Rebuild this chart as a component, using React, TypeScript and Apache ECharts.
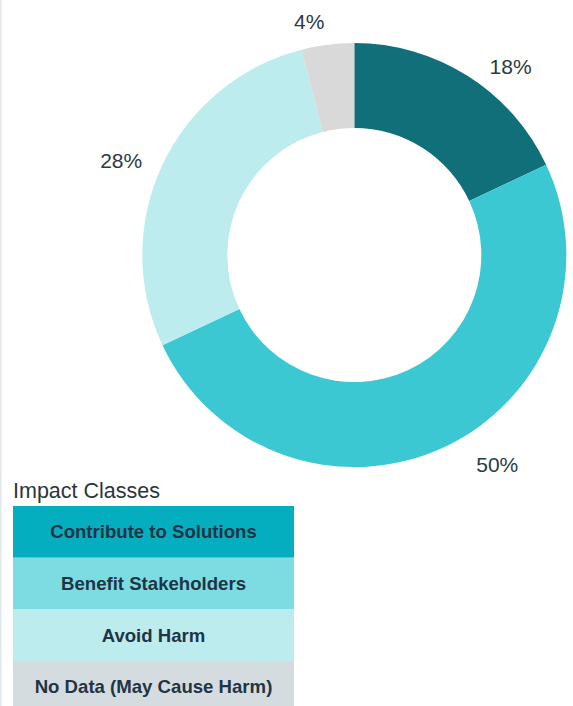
import React, { useEffect, useRef } from "react";
import * as echarts from "echarts";

const sliceNames = ["Contribute to Solutions", "Benefit Stakeholders", "Avoid Harm", "No Data (May Cause Harm)"];
const sliceValues = [18, 50, 28, 4];
const sliceColors = ["#106f78", "#3cc8d3", "#bdecee", "#d9d9d9"];
const labelNudges = [
  [7, 6],
  [19, 1],
  [1, 3],
  [4, -5],
];

const legendTitle = "Impact Classes";
const legendItems = ["Contribute to Solutions", "Benefit Stakeholders", "Avoid Harm", "No Data (May Cause Harm)"];
const legendColors = ["#05aebf", "#7cdce2", "#bdecef", "#d5dcdf"];

export default function App() {
  const ref = useRef<HTMLDivElement>(null);
  useEffect(() => {
    if (!ref.current) return;
    const chart = echarts.init(ref.current, undefined, { renderer: "svg" });
    const rowH = 51.7;
    const top = 506;
    const legendGraphics: any[] = [];
    legendItems.forEach((name, i) => {
      legendGraphics.push({
        type: "rect",
        shape: { x: 13, y: top + i * rowH, width: 281, height: rowH },
        style: { fill: legendColors[i] },
        z: 10,
      });
      legendGraphics.push({
        type: "text",
        x: 153.5,
        y: top + i * rowH + rowH / 2,
        style: {
          text: name,
          fill: "#1f3444",
          font: "bold 18.6px 'Liberation Sans', Arial, sans-serif",
          textAlign: "center",
          textVerticalAlign: "middle",
        },
        z: 11,
      });
    });
    chart.setOption({
      animation: false,
      backgroundColor: "#ffffff",
      graphic: [
        { type: "rect", shape: { x: 0, y: 0, width: 1.5, height: 706 }, style: { fill: "#e1e6e9" } },
        {
          type: "text",
          x: 13,
          y: 491,
          style: {
            text: legendTitle,
            fill: "#2a3540",
            font: "21.5px 'Liberation Sans', Arial, sans-serif",
            textAlign: "left",
            textVerticalAlign: "middle",
          },
        },
        ...legendGraphics,
      ],
      series: [
        {
          type: "pie",
          center: [354.3, 255],
          radius: [127, 212],
          startAngle: 90,
          clockwise: true,
          data: sliceNames.map((n, i) => ({ name: n, value: sliceValues[i], itemStyle: { color: sliceColors[i] } })),
          label: {
            show: true,
            position: "outside",
            formatter: (p: any) => p.value + "%",
            color: "#2a3a46",
            fontSize: 21,
            fontFamily: "'Liberation Sans', Arial, sans-serif",
          },
          labelLine: { show: false, length: 18, length2: 0 },
          labelLayout: (p: any) => ({ dx: labelNudges[p.dataIndex][0], dy: labelNudges[p.dataIndex][1] }),
          emphasis: { disabled: true },
        },
      ],
    });
    return () => chart.dispose();
  }, []);
  return <div ref={ref} style={{ position: "absolute", left: 0, top: 0, width: 573, height: 706 }} />;
}
